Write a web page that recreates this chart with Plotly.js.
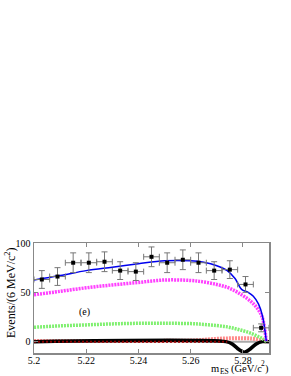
<!DOCTYPE html>
<html>
<head>
<meta charset="utf-8">
<script src="https://cdn.plot.ly/plotly-3.0.1.min.js"></script>
<style>html,body{margin:0;padding:0;background:#fff;}#plot{width:291px;height:376px;}</style>
</head>
<body>
<div id="plot"></div>
<script>
// Data points (bin centres, 6 MeV bins)
var binX = [5.203, 5.209, 5.215, 5.221, 5.227, 5.233, 5.239, 5.245, 5.251, 5.257, 5.263, 5.269, 5.275, 5.281, 5.287];
var binY = [63, 66, 80, 80, 81, 72, 71, 86, 80, 83, 80, 72, 73, 58, 14];
var binErr = [9, 9, 10, 10, 10, 9, 9, 10, 10, 10, 10, 9, 9, 8, 4];
var binHalfWidth = 0.003;

// Fit curves
var curveX = [5.200, 5.210, 5.220, 5.230, 5.240, 5.250, 5.260, 5.265, 5.270, 5.274, 5.277, 5.2795, 5.282, 5.284, 5.286, 5.2875, 5.289];
var totalY = [62.5, 67, 72, 75.5, 79, 82, 82, 80.5, 77, 72, 64, 53, 50, 46, 38, 26, 0];
var combY  = [47.5, 51, 54.6, 57.5, 60, 62.5, 62, 60.5, 58, 55, 51.5, 47.5, 43, 38.5, 32, 24, 0];
var bbY    = [14.6, 16, 17, 18, 18.6, 18.6, 18.3, 17.5, 16.3, 15, 13.2, 11.5, 9.5, 7.5, 5, 3, 0];
var peakX  = [5.200, 5.250, 5.262, 5.268, 5.274, 5.280, 5.284, 5.287, 5.289];
var peakY  = [0.6, 0.8, 1.3, 2.5, 3.3, 3.5, 3.0, 1.5, 0];
var sigX   = [5.200, 5.2735, 5.2760, 5.2785, 5.2805, 5.2825, 5.2850, 5.2875, 5.290];
var sigY   = [0, 0, -2.5, -8, -10.8, -8, -2.5, 0, 0];

var traces = [
  {x: [5.2, 5.29], y: [0, 0], mode: 'lines', line: {color: '#aaaaaa', width: 2}, hoverinfo: 'skip'},
  {x: peakX, y: peakY, mode: 'lines', line: {color: '#ff8a8a', width: 4, dash: '2px,1px', shape: 'spline'}, hoverinfo: 'skip'},
  {x: sigX, y: sigY, mode: 'lines', line: {color: '#000000', width: 3.5, shape: 'spline', smoothing: 0.8}, hoverinfo: 'skip'},
  {x: [5.2, 5.274], y: [0, 0], mode: 'lines', line: {color: '#8b0000', width: 2, dash: '2px,2px'}, hoverinfo: 'skip'},
  {x: curveX, y: bbY, mode: 'lines', line: {color: '#80f070', width: 3.5, dash: '2px,1px', shape: 'spline'}, hoverinfo: 'skip'},
  {x: curveX, y: combY, mode: 'lines', line: {color: '#ff40ff', width: 3.5, dash: '2px,1px', shape: 'spline'}, hoverinfo: 'skip'},
  {x: curveX, y: totalY, mode: 'lines', line: {color: '#0000ee', width: 1.5, shape: 'spline'}, hoverinfo: 'skip'},
  {x: binX, y: binY, mode: 'markers', marker: {symbol: 'square', size: 4, color: '#000'},
   error_y: {type: 'data', array: binErr, color: '#777', thickness: 1, width: 3},
   error_x: {type: 'constant', value: binHalfWidth, color: '#777', thickness: 1, width: 3}, hoverinfo: 'skip'}
];

var serif = 'Liberation Serif, Times New Roman, serif';
function piece(text, x, y, size) {
  return {text: text, xref: 'paper', yref: 'paper', x: x, y: y, xanchor: 'right', yanchor: 'middle',
          showarrow: false, borderpad: 0, borderwidth: 0, font: {family: serif, size: size, color: '#000'}};
}
var layout = {
  width: 291, height: 376,
  margin: {l: 34, r: 22, t: 243, b: 23},
  paper_bgcolor: '#fff', plot_bgcolor: '#fff',
  showlegend: false,
  xaxis: {
    range: [5.2, 5.29], tickvals: [5.2, 5.22, 5.24, 5.26, 5.28], ticktext: ['5.2', '5.22', '5.24', '5.26', '5.28'],
    ticks: 'inside', ticklen: 4, tickcolor: '#888', showline: true, linecolor: '#888', linewidth: 1.5,
    mirror: 'ticks', showgrid: false, zeroline: false, ticklabelstandoff: -3,
    tickfont: {family: serif, size: 10, color: '#000'}
  },
  yaxis: {
    range: [-11.5, 100], tickvals: [0, 50, 100],
    ticks: 'inside', ticklen: 4, tickcolor: '#888', showline: true, linecolor: '#888', linewidth: 1.5,
    mirror: 'ticks', showgrid: false, zeroline: false,
    tickfont: {family: serif, size: 10, color: '#000'}
  },
  annotations: [
    {text: 'Events/(6 MeV/c<sup>2</sup>)', xref: 'paper', yref: 'paper', x: -0.1, y: 0.55, textangle: -90,
     showarrow: false, font: {family: serif, size: 12, color: '#000'}, xanchor: 'center', yanchor: 'middle'},
    piece('m', 0.7872, -0.1436, 10.5),
    piece('ES', 0.8277, -0.171, 7.5),
    piece('(GeV/c', 0.9681, -0.1436, 10.5),
    piece('2', 0.983, -0.098, 7.5),
    piece(')', 0.9979, -0.1436, 10.5),
    {text: '(e)', xref: 'x', yref: 'y', x: 5.2195, y: 30.5, showarrow: false, font: {family: serif, size: 10, color: '#000'}}
  ]
};

Plotly.newPlot('plot', traces, layout, {staticPlot: true, displayModeBar: false});
</script>
</body>
</html>
